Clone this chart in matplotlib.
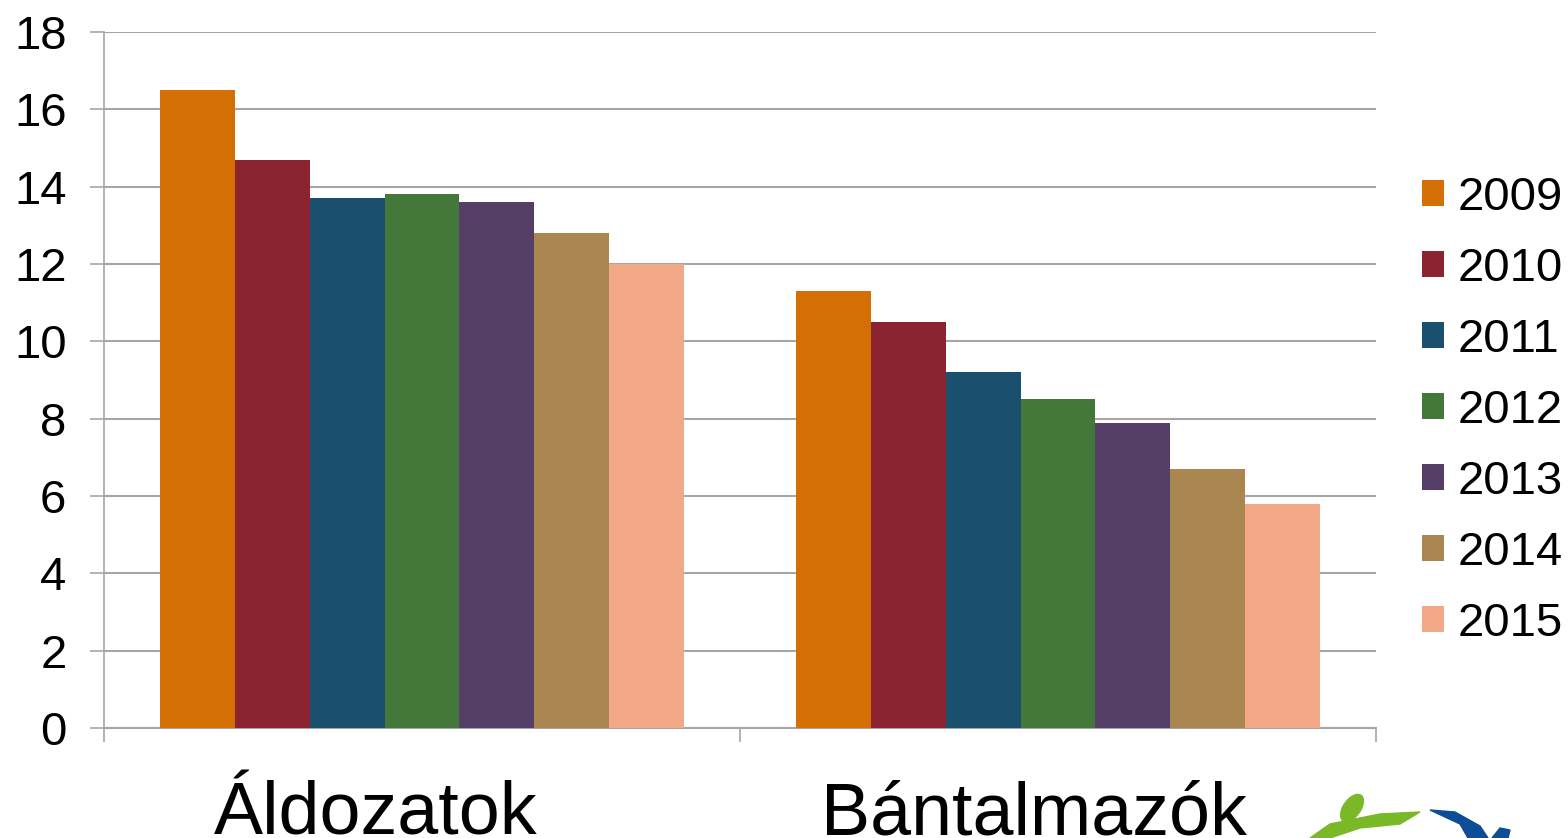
import matplotlib
matplotlib.use("Agg")
import matplotlib.pyplot as plt
import numpy as np
from matplotlib.patches import Ellipse, Polygon, Patch
from matplotlib.transforms import ScaledTranslation

plt.rcParams['font.family'] = ['Liberation Sans', 'DejaVu Sans']

categories = ['Áldozatok', 'Bántalmazók']
years = ['2009', '2010', '2011', '2012', '2013', '2014', '2015']
values = {
    '2009': [16.5, 11.3],
    '2010': [14.7, 10.5],
    '2011': [13.7, 9.2],
    '2012': [13.8, 8.5],
    '2013': [13.6, 7.9],
    '2014': [12.8, 6.7],
    '2015': [12.0, 5.8],
}
colors = ['#D46F06', '#8B2331', '#1A4F6E', '#44773A', '#553F69', '#AA8650', '#F2A886']
yticks = [0, 2, 4, 6, 8, 10, 12, 14, 16, 18]

fig = plt.figure(figsize=(15.68, 8.38), dpi=100)
ax = fig.add_axes([104 / 1568, 1 - 728 / 838, 1272 / 1568, 696 / 838])

x = np.arange(len(categories))
group_w = 0.824
bar_w = group_w / len(years)
for i, (yr, c) in enumerate(zip(years, colors)):
    offs = -group_w / 2 + bar_w * (i + 0.5)
    ax.bar(x + offs, values[yr], width=bar_w, color=c, linewidth=0, zorder=3)

ax.set_xlim(-0.5, len(categories) - 0.5)
ax.set_ylim(0, 18)
ax.set_yticks(yticks)
ax.yaxis.grid(True, color='#a6a6a6', linewidth=1.5, zorder=0)
ax.tick_params(axis='y', length=10, width=1.2, color='#a6a6a6', pad=17, labelsize=34)

# category boundaries as tick marks, labels placed separately
ax.set_xticks(np.arange(len(categories) + 1) - 0.5)
ax.set_xticklabels([])
ax.tick_params(axis='x', length=10, width=1.2, color='#a6a6a6')

for s in ['top', 'right']:
    ax.spines[s].set_visible(False)
ax.spines['left'].set_color('#a6a6a6')
ax.spines['left'].set_linewidth(1.2)
ax.spines['bottom'].set_color('#a6a6a6')
ax.spines['bottom'].set_linewidth(1.5)

label_shift = [-46, -24]
for xi, cat, dx in zip(x, categories, label_shift):
    tr = ax.get_xaxis_transform() + ScaledTranslation(dx / 100, 0, fig.dpi_scale_trans)
    ax.text(xi, -0.1523, cat, transform=tr, ha='center', va='baseline',
            fontsize=53, clip_on=False)

handles = [Patch(facecolor=c, edgecolor='none') for c in colors]
fig.legend(handles, years, loc='center left', bbox_to_anchor=(1422 / 1568, 1 - 411 / 838),
           frameon=False, fontsize=34, handlelength=0.47, handleheight=0.47,
           handletextpad=0.28, labelspacing=0.57, borderpad=0, borderaxespad=0)

# partial logo in the bottom-right corner
fig.patches.append(Ellipse((1352 / 1568, 1 - 808 / 838), 19 / 1568, 28 / 838, angle=-15,
                           color='#7AB828', transform=fig.transFigure))
fig.patches.append(Polygon([(1310 / 1568, 0), (1330 / 1568, 14 / 838), (1380 / 1568, 24 / 838),
                            (1420 / 1568, 26 / 838), (1400 / 1568, 14 / 838), (1360 / 1568, 10 / 838),
                            (1330 / 1568, 0)], closed=True, color='#7AB828', transform=fig.transFigure))
fig.patches.append(Polygon([(1430 / 1568, 28 / 838), (1455 / 1568, 26 / 838), (1480 / 1568, 12 / 838),
                            (1488 / 1568, 0), (1468 / 1568, 0), (1460 / 1568, 14 / 838)],
                           closed=True, color='#0D4C97', transform=fig.transFigure))
fig.patches.append(Polygon([(1492 / 1568, 0), (1500 / 1568, 10 / 838), (1510 / 1568, 8 / 838),
                            (1508 / 1568, 0)], closed=True, color='#0D4C97', transform=fig.transFigure))

fig.savefig('out.png', dpi=100)
